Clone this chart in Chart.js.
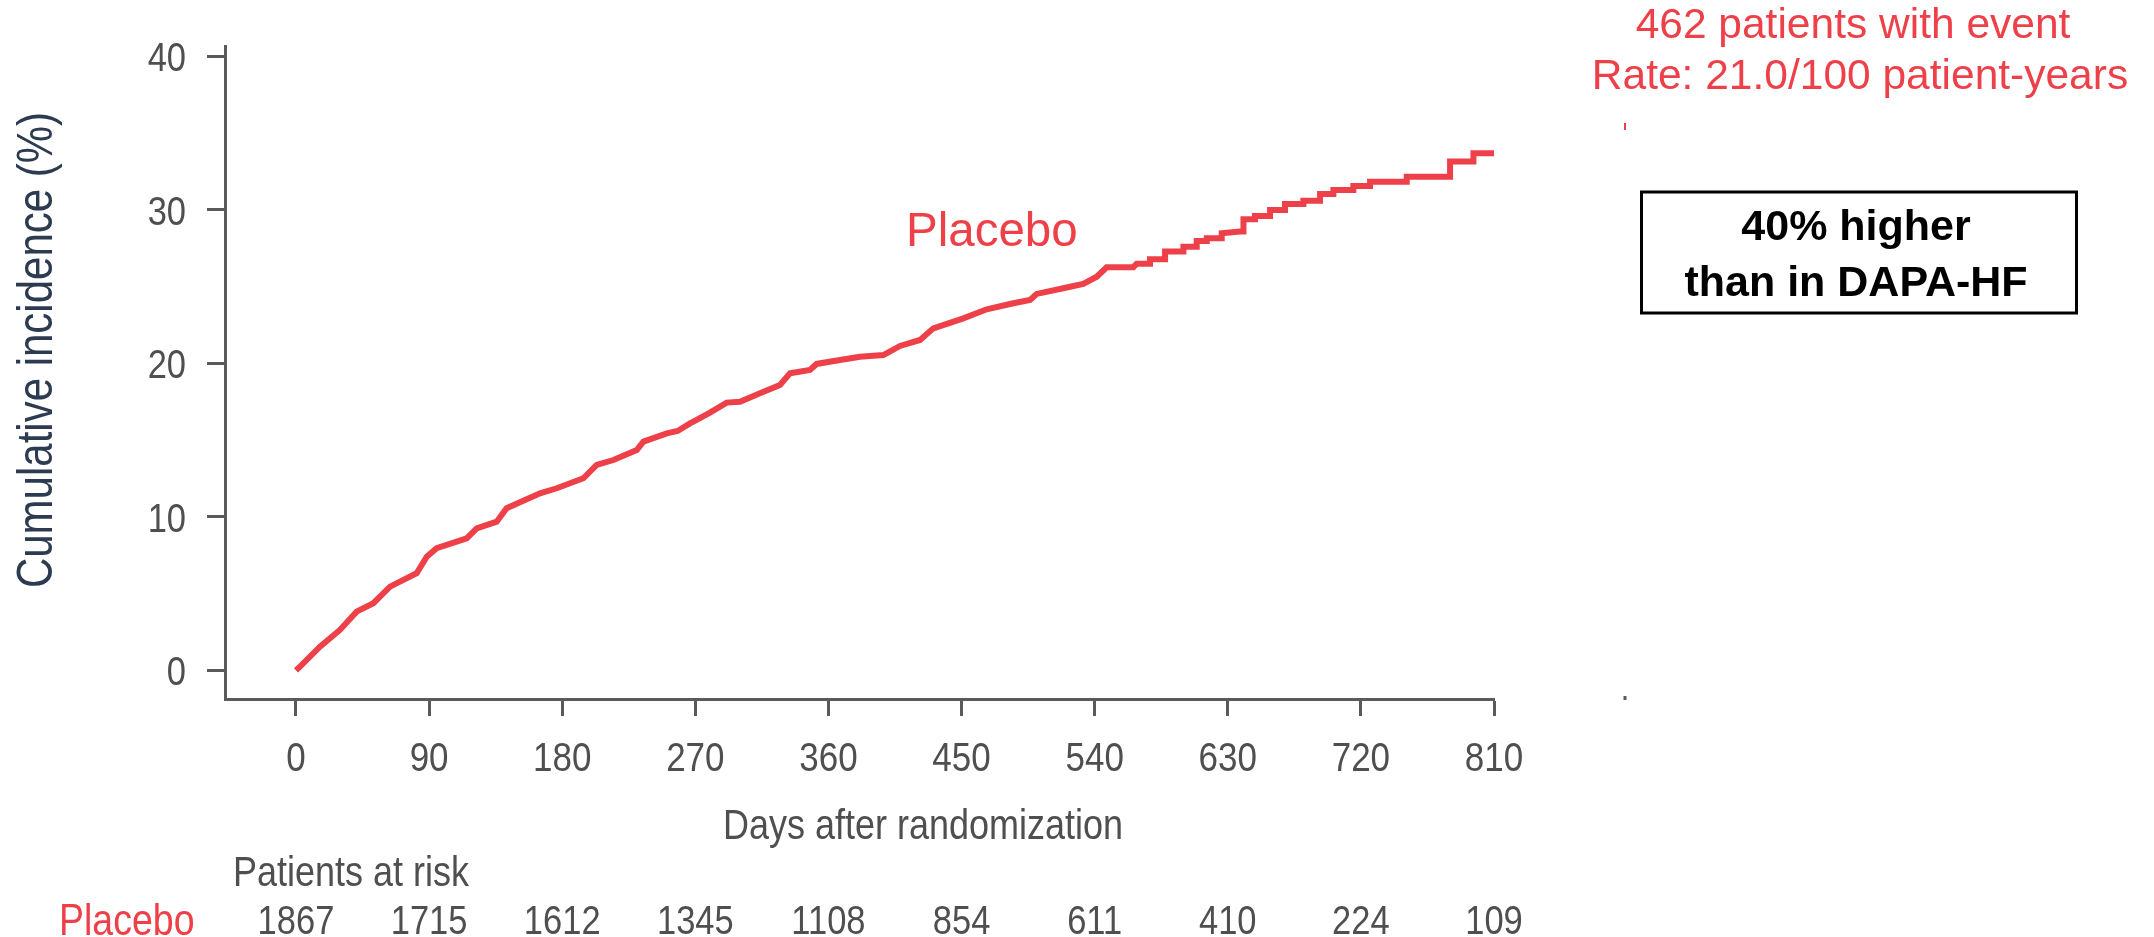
<!DOCTYPE html>
<html>
<head>
<meta charset="utf-8">
<title>Cumulative incidence – Placebo</title>
<script src="https://cdn.jsdelivr.net/npm/chart.js@4/dist/chart.umd.min.js"></script>
<style>
  html, body { margin: 0; padding: 0; background: #ffffff; overflow: hidden; }
  #wrap { position: relative; width: 2154px; height: 937px; }
  canvas { display: block; }
</style>
</head>
<body>
<div id="wrap"><canvas id="km" width="2154" height="937"></canvas></div>
<script>
// ---- data -------------------------------------------------------------
const dayTicks = [0, 90, 180, 270, 360, 450, 540, 630, 720, 810];
const incidenceTicks = [0, 10, 20, 30, 40];

// Kaplan–Meier cumulative incidence (%) for the placebo arm, by day
const placeboDays = [
  0, 2.7, 16.2, 29.7, 41, 52.3, 63.6, 81.6, 88.4, 95.1,
  115.4, 122.2, 135.7, 142.4, 165, 176.3, 194.3, 203.3, 214.6, 230.4,
  234.9, 250.7, 258, 266.4, 270.9, 279.9, 291.2, 300.2, 313.7, 327.2,
  334, 347.5, 352, 367.8, 381.3, 397.1, 408.4, 421.9, 430.9, 451.2,
  467, 485, 496.3, 500.8, 518.8, 523.3, 532.3, 541.4, 548.1, 566.1,
  568.4, 577.4, 577.4, 587.6, 587.6, 600, 600, 609, 609, 615.8,
  615.8, 625.9, 625.9, 638.3, 640.6, 640.6, 648.4, 648.4, 658.6, 658.6,
  668.7, 668.7, 681.1, 681.1, 692.4, 692.4, 701.4, 701.4, 714.9, 714.9,
  726.2, 726.2, 751, 751, 780.3, 780.3, 796.1, 796.1, 810
];
const placeboIncidence = [
  0, 0.25, 1.55, 2.64, 3.83, 4.38, 5.46, 6.33, 7.41, 7.96,
  8.61, 9.26, 9.69, 10.57, 11.54, 11.87, 12.52, 13.39, 13.71, 14.36,
  14.91, 15.45, 15.6, 16.1, 16.32, 16.8, 17.45, 17.51, 18.06, 18.6,
  19.36, 19.58, 19.97, 20.23, 20.44, 20.55, 21.14, 21.53, 22.29, 22.94,
  23.53, 23.92, 24.14, 24.53, 24.9, 25.0, 25.18, 25.65, 26.27, 26.27,
  26.49, 26.49, 26.79, 26.79, 27.29, 27.29, 27.61, 27.61, 27.98, 27.98,
  28.15, 28.15, 28.48, 28.59, 28.59, 29.39, 29.39, 29.61, 29.61, 30.0,
  30.0, 30.39, 30.39, 30.6, 30.6, 31.04, 31.04, 31.3, 31.3, 31.56,
  31.56, 31.84, 31.84, 32.17, 32.17, 33.15, 33.15, 33.69, 33.69
];

// Numbers at risk below the axis
const riskDays = [0, 90, 180, 270, 360, 450, 540, 630, 720, 810];
const placeboAtRisk = [1867, 1715, 1612, 1345, 1108, 854, 611, 410, 224, 109];

// Annotation text
const eventLines = ['462 patients with event', 'Rate: 21.0/100 patient-years'];
const boxLines = ['40% higher', 'than in DAPA-HF'];

// ---- styling ----------------------------------------------------------
const FONT = '"Liberation Sans", Arial, Helvetica, sans-serif';
const RED = '#EE4049';
const AXIS = '#5a5a5a';
const TICK_TEXT = '#4f4f4f';
const NAVY = '#2D3B50';
const TALL = 1.18;   // the axis lettering is a tall, condensed face

const points = placeboDays.map((d, i) => ({ x: d, y: placeboIncidence[i] }));

// Draw text whose cap-height centre sits at cy, stretched vertically by k
function tallText(ctx, text, x, cy, size, color, align, k) {
  ctx.save();
  ctx.font = `${size}px ${FONT}`;
  ctx.fillStyle = color;
  ctx.textAlign = align;
  ctx.textBaseline = 'alphabetic';
  ctx.translate(x, cy + 0.358 * size * k);
  ctx.scale(1, k);
  ctx.fillText(text, 0, 0);
  ctx.restore();
}

// Tick labels, axis titles, curve label, risk table and the side notes
const annotations = {
  id: 'annotations',
  afterDraw(chart) {
    const ctx = chart.ctx;
    const xs = chart.scales.x;
    const ys = chart.scales.y;
    ctx.save();

    // tick labels
    dayTicks.forEach(d => tallText(ctx, String(d), xs.getPixelForValue(d), 756, 35, TICK_TEXT, 'center', TALL));
    incidenceTicks.forEach(v => tallText(ctx, String(v), 186, ys.getPixelForValue(v), 34.5, TICK_TEXT, 'right', TALL));

    // y-axis title (rotated, glyphs stretched across the line)
    ctx.save();
    ctx.translate(52, 350);
    ctx.rotate(-Math.PI / 2);
    ctx.scale(1, TALL);
    ctx.font = `42px ${FONT}`;
    ctx.fillStyle = NAVY;
    ctx.textAlign = 'center';
    ctx.textBaseline = 'alphabetic';
    ctx.fillText('Cumulative incidence (%)', 0, 0);
    ctx.restore();

    // x-axis title
    tallText(ctx, 'Days after randomization', 923, 824, 36, TICK_TEXT, 'center', TALL);

    // curve label
    ctx.font = `47.5px ${FONT}`;
    ctx.fillStyle = RED;
    ctx.textAlign = 'left';
    ctx.textBaseline = 'alphabetic';
    ctx.fillText('Placebo', 906, 246);

    // risk table
    tallText(ctx, 'Patients at risk', 233, 871, 36, TICK_TEXT, 'left', TALL);
    tallText(ctx, 'Placebo', 59, 919, 37.5, RED, 'left', TALL);
    riskDays.forEach((d, i) => {
      tallText(ctx, String(placeboAtRisk[i]), xs.getPixelForValue(d), 919, 34.5, TICK_TEXT, 'center', TALL);
    });

    // event summary
    ctx.font = `42.5px ${FONT}`;
    ctx.fillStyle = RED;
    ctx.textAlign = 'center';
    ctx.fillText(eventLines[0], 1853, 37.5);
    ctx.fillText(eventLines[1], 1860, 88.5);

    // small stray marks of the neighbouring panel
    ctx.fillStyle = RED;
    ctx.fillRect(1624, 123, 2, 7);
    ctx.fillStyle = AXIS;
    ctx.fillRect(1623.5, 696, 3, 4);

    // boxed comparison note
    ctx.strokeStyle = '#000000';
    ctx.lineWidth = 3;
    ctx.strokeRect(1641.5, 192, 435, 121);
    ctx.font = `bold 43px ${FONT}`;
    ctx.fillStyle = '#000000';
    ctx.textAlign = 'center';
    ctx.fillText(boxLines[0], 1856, 239.5);
    ctx.fillText(boxLines[1], 1856, 295.5);

    ctx.restore();
  }
};

new Chart(document.getElementById('km'), {
  type: 'line',
  data: {
    datasets: [{
      label: 'Placebo',
      data: points,
      borderColor: RED,
      borderWidth: 6,
      pointRadius: 0,
      tension: 0,
      fill: false,
      borderJoinStyle: 'miter',
      borderCapStyle: 'butt'
    }]
  },
  options: {
    responsive: false,
    animation: false,
    devicePixelRatio: 1,
    layout: { padding: { top: 46.5, right: 660, bottom: 0, left: 0 } },
    plugins: { legend: { display: false }, tooltip: { enabled: false }, title: { display: false } },
    scales: {
      x: {
        type: 'linear',
        min: -48,
        max: 810,
        afterBuildTicks(scale) { scale.ticks = dayTicks.map(v => ({ value: v })); },
        afterFit(scale) { scale.height = 238; },
        border: { display: true, color: AXIS, width: 3 },
        grid: { display: true, drawOnChartArea: false, drawTicks: true, tickLength: 17, tickWidth: 3, tickColor: AXIS },
        ticks: { display: false, autoSkip: false, maxRotation: 0 }
      },
      y: {
        type: 'linear',
        min: -1.86,
        max: 40.65,
        afterBuildTicks(scale) { scale.ticks = incidenceTicks.map(v => ({ value: v })); },
        afterFit(scale) { scale.width = 225; },
        border: { display: true, color: AXIS, width: 3 },
        grid: { display: true, drawOnChartArea: false, drawTicks: true, tickLength: 18, tickWidth: 3, tickColor: AXIS },
        ticks: { display: false, autoSkip: false }
      }
    }
  },
  plugins: [annotations]
});
</script>
</body>
</html>
